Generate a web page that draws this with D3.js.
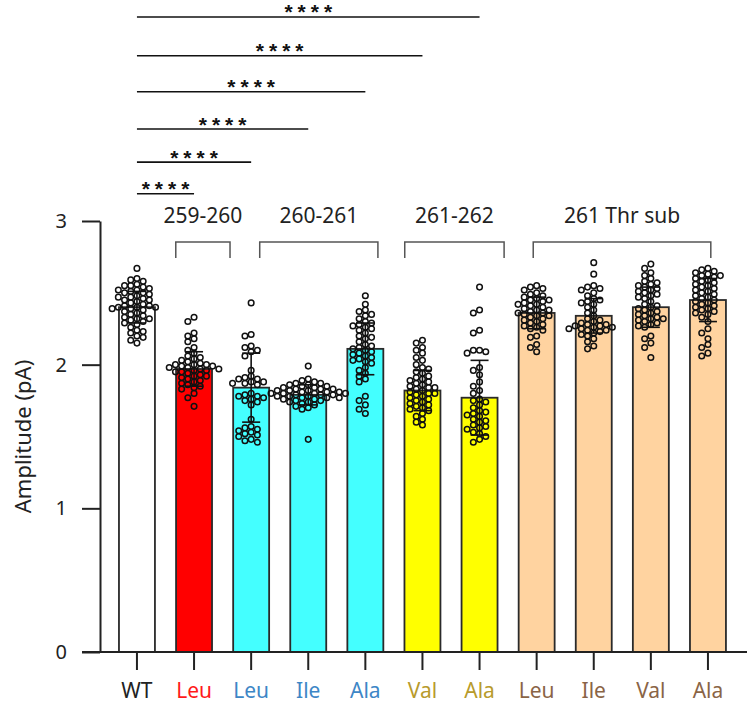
<!DOCTYPE html>
<html>
<head>
<meta charset="utf-8">
<script src="https://cdn.jsdelivr.net/npm/d3@7"></script>
<style>
  body { margin: 0; background: #fff; }
  svg { display: block; font-family: "Noto Sans", "Open Sans", sans-serif; }
</style>
</head>
<body>
<svg></svg>
<script>
// categories and colours
let labels = ["WT", "Leu", "Leu", "Ile", "Ala", "Val", "Ala", "Leu", "Ile", "Val", "Ala"];
let barColors = ["#ffffff", "#ff0000", "#44ffff", "#44ffff", "#44ffff", "#ffff00", "#ffff00", "#ffd3a0", "#ffd3a0", "#ffd3a0", "#ffd3a0"];
let labelColors = ["#222222", "#ff1a1a", "#3d86c6", "#3d86c6", "#3d86c6", "#b89b2c", "#b89b2c", "#8a6446", "#8a6446", "#8a6446", "#8a6446"];

// means and SD
let means = [2.40, 1.97, 1.84, 1.79, 2.11, 1.82, 1.77, 2.36, 2.34, 2.40, 2.45];
let sds = [0.11, 0.12, 0.24, 0.07, 0.18, 0.14, 0.26, 0.11, 0.12, 0.14, 0.15];

// individual recordings
let wt = [2.67, 2.60, 2.59, 2.58, 2.56, 2.55, 2.55, 2.54, 2.53, 2.52, 2.52, 2.51, 2.50, 2.50, 2.49, 2.48, 2.47, 2.47, 2.46, 2.45, 2.45, 2.44, 2.43, 2.42, 2.41, 2.41, 2.40, 2.40, 2.40, 2.39, 2.39, 2.38, 2.37, 2.36, 2.35, 2.34, 2.33, 2.32, 2.32, 2.31, 2.30, 2.29, 2.28, 2.26, 2.24, 2.23, 2.22, 2.20, 2.19, 2.17, 2.15];
let leu259 = [2.33, 2.30, 2.22, 2.20, 2.18, 2.16, 2.12, 2.10, 2.08, 2.06, 2.05, 2.04, 2.03, 2.02, 2.01, 2.00, 2.00, 2.00, 1.99, 1.99, 1.98, 1.98, 1.97, 1.97, 1.96, 1.96, 1.95, 1.95, 1.94, 1.93, 1.92, 1.92, 1.91, 1.90, 1.89, 1.88, 1.87, 1.86, 1.85, 1.84, 1.83, 1.80, 1.77, 1.71];
let leu260 = [2.43, 2.21, 2.20, 2.13, 2.12, 2.10, 2.09, 2.06, 1.96, 1.92, 1.91, 1.90, 1.90, 1.88, 1.88, 1.87, 1.87, 1.86, 1.80, 1.79, 1.78, 1.78, 1.77, 1.76, 1.75, 1.74, 1.72, 1.62, 1.57, 1.56, 1.55, 1.54, 1.53, 1.52, 1.51, 1.50, 1.48, 1.47, 1.46];
let ile260 = [1.99, 1.90, 1.89, 1.88, 1.87, 1.87, 1.86, 1.86, 1.85, 1.85, 1.84, 1.84, 1.83, 1.83, 1.83, 1.82, 1.82, 1.82, 1.81, 1.81, 1.81, 1.80, 1.80, 1.80, 1.80, 1.79, 1.79, 1.79, 1.78, 1.78, 1.78, 1.77, 1.77, 1.77, 1.76, 1.76, 1.75, 1.75, 1.74, 1.74, 1.73, 1.72, 1.71, 1.70, 1.69, 1.48];
let ala260 = [2.48, 2.42, 2.38, 2.37, 2.35, 2.34, 2.32, 2.30, 2.29, 2.28, 2.27, 2.26, 2.25, 2.24, 2.22, 2.20, 2.19, 2.18, 2.16, 2.14, 2.13, 2.12, 2.11, 2.10, 2.09, 2.08, 2.07, 2.06, 2.05, 2.04, 2.03, 2.02, 2.01, 1.98, 1.96, 1.94, 1.92, 1.90, 1.88, 1.78, 1.75, 1.72, 1.69, 1.66];
let val261 = [2.17, 2.15, 2.12, 2.10, 2.08, 2.05, 2.03, 2.00, 1.98, 1.97, 1.95, 1.94, 1.92, 1.91, 1.90, 1.89, 1.88, 1.87, 1.86, 1.85, 1.84, 1.84, 1.83, 1.82, 1.81, 1.80, 1.80, 1.79, 1.78, 1.77, 1.76, 1.75, 1.74, 1.73, 1.72, 1.71, 1.70, 1.69, 1.68, 1.66, 1.64, 1.62, 1.60, 1.58];
let ala261 = [2.54, 2.38, 2.36, 2.24, 2.22, 2.10, 2.10, 2.09, 2.08, 1.98, 1.96, 1.93, 1.88, 1.85, 1.82, 1.80, 1.76, 1.75, 1.74, 1.72, 1.70, 1.68, 1.67, 1.66, 1.65, 1.64, 1.62, 1.61, 1.60, 1.58, 1.57, 1.56, 1.55, 1.53, 1.52, 1.50, 1.48, 1.46];
let thrLeu = [2.55, 2.54, 2.53, 2.52, 2.50, 2.49, 2.48, 2.47, 2.46, 2.45, 2.45, 2.44, 2.43, 2.42, 2.42, 2.41, 2.40, 2.39, 2.38, 2.38, 2.37, 2.36, 2.36, 2.35, 2.34, 2.34, 2.33, 2.32, 2.31, 2.30, 2.29, 2.28, 2.27, 2.26, 2.25, 2.24, 2.20, 2.19, 2.14, 2.12, 2.09];
let thrIle = [2.71, 2.63, 2.55, 2.54, 2.53, 2.52, 2.50, 2.48, 2.46, 2.45, 2.44, 2.43, 2.42, 2.40, 2.38, 2.36, 2.34, 2.32, 2.31, 2.30, 2.29, 2.28, 2.28, 2.27, 2.27, 2.26, 2.26, 2.25, 2.25, 2.24, 2.24, 2.23, 2.22, 2.21, 2.20, 2.18, 2.16, 2.13, 2.11];
let thrVal = [2.70, 2.67, 2.64, 2.62, 2.60, 2.58, 2.57, 2.56, 2.55, 2.54, 2.53, 2.52, 2.51, 2.50, 2.49, 2.48, 2.47, 2.46, 2.44, 2.42, 2.41, 2.40, 2.39, 2.38, 2.37, 2.36, 2.35, 2.34, 2.33, 2.32, 2.32, 2.31, 2.30, 2.29, 2.28, 2.27, 2.26, 2.20, 2.18, 2.15, 2.12, 2.05];
let thrAla = [2.67, 2.66, 2.65, 2.64, 2.63, 2.62, 2.62, 2.61, 2.60, 2.59, 2.58, 2.57, 2.56, 2.55, 2.54, 2.53, 2.52, 2.51, 2.50, 2.49, 2.48, 2.47, 2.46, 2.45, 2.44, 2.43, 2.42, 2.41, 2.40, 2.39, 2.38, 2.37, 2.36, 2.35, 2.33, 2.30, 2.25, 2.22, 2.18, 2.14, 2.12, 2.08, 2.06];
let points = [wt, leu259, leu260, ile260, ala260, val261, ala261, thrLeu, thrIle, thrVal, thrAla];

// group brackets: label, from / to in category index units
let groupNames = ["259-260", "260-261", "261-262", "261 Thr sub"];
let groupFrom = [0.68, 2.15, 4.69, 6.94];
let groupTo = [1.63, 4.22, 6.43, 10.05];

// significance comparisons vs WT
let sigTo = [1, 2, 3, 4, 5, 6];
let sigLevel = [3.19, 3.41, 3.64, 3.90, 4.15, 4.42];
let sigText = "****";

let width = 750;
let height = 705;

let svg = d3.select("svg").attr("width", width).attr("height", height);

let xScale = d3.scaleBand()
               .domain(d3.range(labels.length))
               .range([108.4, 736.5])
               .paddingInner(0.37)
               .paddingOuter(0.185);

let yScale = d3.scaleLinear()
               .domain([0, 3])
               .range([652, 221]);

let cx = (i) => xScale(i) + xScale.bandwidth() / 2;
let idxX = d3.scaleLinear().domain([0, 1]).range([cx(0), cx(1)]);

// bars
svg.selectAll(".bar")
   .data(means)
   .enter()
   .append("rect")
   .attr("class", "bar")
   .attr("x", (d, i) => xScale(i))
   .attr("y", (d) => yScale(d))
   .attr("width", xScale.bandwidth())
   .attr("height", (d) => yScale(0) - yScale(d))
   .attr("fill", (d, i) => barColors[i])
   .attr("stroke", "#2a2a2a")
   .attr("stroke-width", 1.8);

// dots, simple beeswarm dodge
let r = 2.8;
let gap = 6.2;
points.forEach((vals, i) => {
    let placed = [];
    let sorted = vals.slice().sort((a, b) => b - a);
    sorted.forEach((v) => {
        let py = yScale(v);
        let k = 0;
        let px;
        while (true) {
            let off = (k % 2 === 0 ? 1 : -1) * Math.ceil(k / 2) * gap;
            px = cx(i) + off;
            let hit = placed.some((p) => (p[0] - px) ** 2 + (p[1] - py) ** 2 < gap * gap * 0.85);
            if (!hit) break;
            k++;
        }
        placed.push([px, py]);
    });
    svg.append("g")
       .selectAll("circle")
       .data(placed)
       .enter()
       .append("circle")
       .attr("cx", (d) => d[0])
       .attr("cy", (d) => d[1])
       .attr("r", r)
       .attr("fill", "none")
       .attr("stroke", "#111")
       .attr("stroke-width", 1.5);
});

// error bars
let capW = 9;
means.forEach((m, i) => {
    let g = svg.append("g").attr("stroke", "#111").attr("stroke-width", 1.6);
    g.append("line")
     .attr("x1", cx(i)).attr("x2", cx(i))
     .attr("y1", yScale(m - sds[i])).attr("y2", yScale(m + sds[i]));
    [m - sds[i], m + sds[i]].forEach((v) => {
        g.append("line")
         .attr("x1", cx(i) - capW).attr("x2", cx(i) + capW)
         .attr("y1", yScale(v)).attr("y2", yScale(v));
    });
});

// axes
let yAxis = svg.append("g")
   .attr("transform", "translate(100,0)")
   .call(d3.axisLeft(yScale).tickValues([0, 1, 2, 3]).tickFormat(d3.format("d"))
          .tickSize(18).tickSizeOuter(0).tickPadding(15));
yAxis.selectAll("path, line").attr("stroke", "#222").attr("stroke-width", 2);
yAxis.selectAll("text").attr("font-size", 20).attr("fill", "#222")
     .attr("font-family", "Noto Sans, sans-serif");

let xAxis = svg.append("g")
   .attr("transform", "translate(0," + yScale(0) + ")")
   .call(d3.axisBottom(xScale).tickSize(18).tickSizeOuter(0).tickPadding(13).tickFormat((d) => labels[d]));
xAxis.select(".domain").remove();
xAxis.append("line")
     .attr("x1", 82).attr("x2", 747)
     .attr("stroke", "#222").attr("stroke-width", 2);
xAxis.selectAll(".tick line").attr("stroke", "#222").attr("stroke-width", 2);
xAxis.selectAll(".tick text")
     .attr("font-size", 21)
     .attr("font-family", "Noto Sans, sans-serif")
     .attr("fill", (d) => labelColors[d]);

svg.append("text")
   .attr("transform", "translate(31," + yScale(1.5) + ") rotate(-90)")
   .attr("text-anchor", "middle")
   .attr("font-size", 22)
   .attr("fill", "#222")
   .text("Amplitude (pA)");

// group brackets
groupNames.forEach((name, k) => {
    let x1 = idxX(groupFrom[k]);
    let x2 = idxX(groupTo[k]);
    let yTop = yScale(2.853);
    let yEnd = yScale(2.742);
    svg.append("path")
       .attr("d", "M" + x1 + "," + yEnd + "V" + yTop + "H" + x2 + "V" + yEnd)
       .attr("fill", "none")
       .attr("stroke", "#555")
       .attr("stroke-width", 1.5);
    svg.append("text")
       .attr("x", (x1 + x2) / 2)
       .attr("y", yScale(2.985))
       .attr("text-anchor", "middle")
       .attr("font-size", 21)
       .attr("fill", "#222")
       .text(name);
});

// significance lines
sigTo.forEach((j, k) => {
    let y = yScale(sigLevel[k]);
    svg.append("line")
       .attr("x1", cx(0)).attr("x2", cx(j))
       .attr("y1", y).attr("y2", y)
       .attr("stroke", "#111").attr("stroke-width", 1.6);
    svg.append("text")
       .attr("x", (cx(0) + cx(j)) / 2 + 2.5)
       .attr("y", y + 2.5)
       .attr("text-anchor", "middle")
       .attr("font-family", "Liberation Sans, sans-serif")
       .attr("font-size", 21)
       .attr("font-weight", "bold")
       .attr("letter-spacing", 5)
       .attr("fill", "#111")
       .text(sigText);
});
</script>
</body>
</html>
